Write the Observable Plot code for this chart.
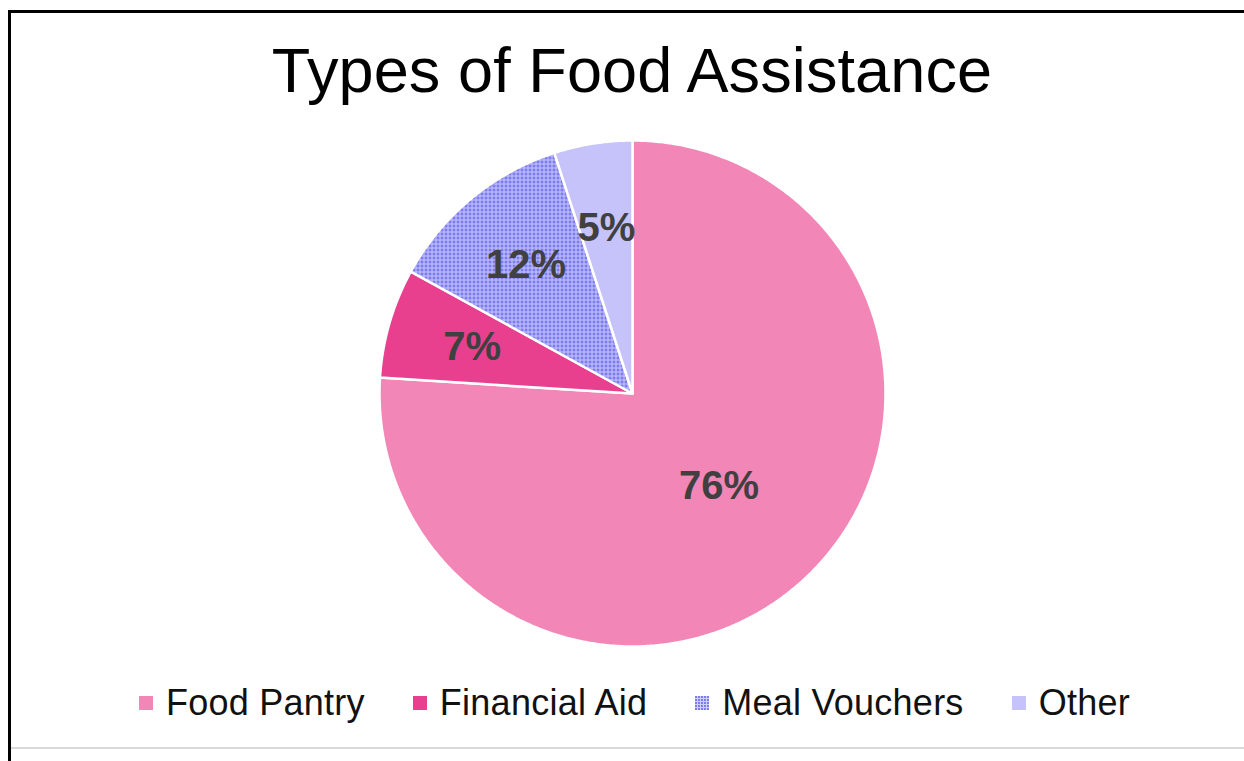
<!DOCTYPE html>
<html>
<head>
<meta charset="utf-8">
<script src="https://cdn.jsdelivr.net/npm/d3@7"></script>
<script src="https://cdn.jsdelivr.net/npm/@observablehq/plot@0.6"></script>
<style>
  html, body { margin: 0; padding: 0; background: #fff; }
  body { width: 1244px; height: 761px; position: relative; overflow: hidden; font-family: "Liberation Sans", Arial, sans-serif; }
  .line-left { position: absolute; left: 8px; top: 10px; width: 3px; height: 751px; background: #000; }
  .line-top { position: absolute; left: 8px; top: 10px; width: 1236px; height: 3px; background: #000; }
  .line-bottom { position: absolute; left: 11px; top: 747px; width: 1233px; height: 2px; background: #d9d9d9; }
  #title { position: absolute; left: 0; width: 1264px; top: 39px; text-align: center; font-size: 63px; letter-spacing: 0.1px; line-height: 1; color: #000; }
  #chart { position: absolute; left: 0; top: 120px; }
  #legend { position: absolute; left: 139px; top: 685px; display: flex; align-items: center; gap: 48px; font-size: 36px; letter-spacing: 0.25px; line-height: 1; color: #111; }
  .item { display: flex; align-items: center; gap: 13px; }
  .swatch { width: 14px; height: 14px; display: inline-block; }
</style>
</head>
<body>
<div class="line-left"></div>
<div class="line-top"></div>
<div class="line-bottom"></div>
<div id="title">Types of Food Assistance</div>
<div id="chart"></div>
<div id="legend"></div>
<script>
const categories = ["Food Pantry", "Financial Aid", "Meal Vouchers", "Other"];
const shares = [76, 7, 12, 5];
const labels = ["76%", "7%", "12%", "5%"];
const colors = ["#F287B7", "#E8408E", "url(#mealPattern)", "#C6C3FA"];

// build slice polygons from the shares (clockwise from 12 o'clock)
const total = d3.sum(shares);
const slices = [];
const labelRows = [];
let acc = 0;
categories.forEach((name, i) => {
  const a0 = acc / total * 2 * Math.PI;
  acc += shares[i];
  const a1 = acc / total * 2 * Math.PI;
  const n = Math.max(2, Math.ceil((a1 - a0) / (Math.PI / 360)));
  slices.push({name, fill: colors[i], x: 0, y: 0, k: 0});
  for (let j = 0; j <= n; j++) {
    const a = a0 + (a1 - a0) * j / n;
    slices.push({name, fill: colors[i], x: Math.sin(a), y: Math.cos(a), k: j + 1});
  }
  slices.push({name, fill: colors[i], x: 0, y: 0, k: n + 2});
  const am = (a0 + a1) / 2;
  const rf = shares[i] > 50 ? 0.5 : 0.66;
  labelRows.push({label: labels[i], x: Math.sin(am) * rf, y: Math.cos(am) * rf});
});

const R = 253, cx = 632, cy = 273;
const chart = Plot.plot({
  width: 1244,
  height: 540,
  margin: 0,
  style: {background: "transparent"},
  x: {domain: [-1, 1], range: [cx - R, cx + R], axis: null},
  y: {domain: [-1, 1], range: [cy + R, cy - R], axis: null},
  color: {type: "identity"},
  marks: [
    Plot.line(slices, {x: "x", y: "y", z: "name", fill: "fill", stroke: "white", strokeWidth: 2.5, strokeLinejoin: "round", curve: "linear"}),
    Plot.text(labelRows, {x: "x", y: "y", text: "label", fontSize: 40, fontWeight: "bold", fill: "#404040", fontFamily: "Liberation Sans, Arial, sans-serif", textAnchor: "middle", lineAnchor: "middle"})
  ]
});

// pattern definition for Meal Vouchers
const svg = d3.select(chart);
const defs = svg.insert("defs", ":first-child");
const pat = defs.append("pattern").attr("id", "mealPattern").attr("patternUnits", "userSpaceOnUse").attr("width", 4).attr("height", 4);
pat.append("rect").attr("width", 4).attr("height", 4).attr("fill", "#7D7BF0");
pat.append("rect").attr("x", 3).attr("width", 1).attr("height", 4).attr("fill", "#C9C8FA");
pat.append("rect").attr("y", 3).attr("width", 4).attr("height", 1).attr("fill", "#C9C8FA");
document.getElementById("chart").appendChild(chart);

// legend
const legend = d3.select("#legend");
categories.forEach((name, i) => {
  const item = legend.append("div").attr("class", "item");
  if (colors[i].startsWith("url")) {
    const s = item.append("svg").attr("width", 14).attr("height", 14);
    const p = s.append("defs").append("pattern").attr("id", "legPattern").attr("patternUnits", "userSpaceOnUse").attr("width", 3).attr("height", 3);
    p.append("rect").attr("width", 3).attr("height", 3).attr("fill", "#7D7BF0");
    p.append("rect").attr("x", 2).attr("width", 1).attr("height", 3).attr("fill", "#D0CFFB");
    p.append("rect").attr("y", 2).attr("width", 3).attr("height", 1).attr("fill", "#D0CFFB");
    s.append("rect").attr("width", 14).attr("height", 14).attr("fill", "url(#legPattern)");
  } else {
    item.append("span").attr("class", "swatch").style("background", colors[i]);
  }
  item.append("span").text(name);
});
</script>
</body>
</html>
